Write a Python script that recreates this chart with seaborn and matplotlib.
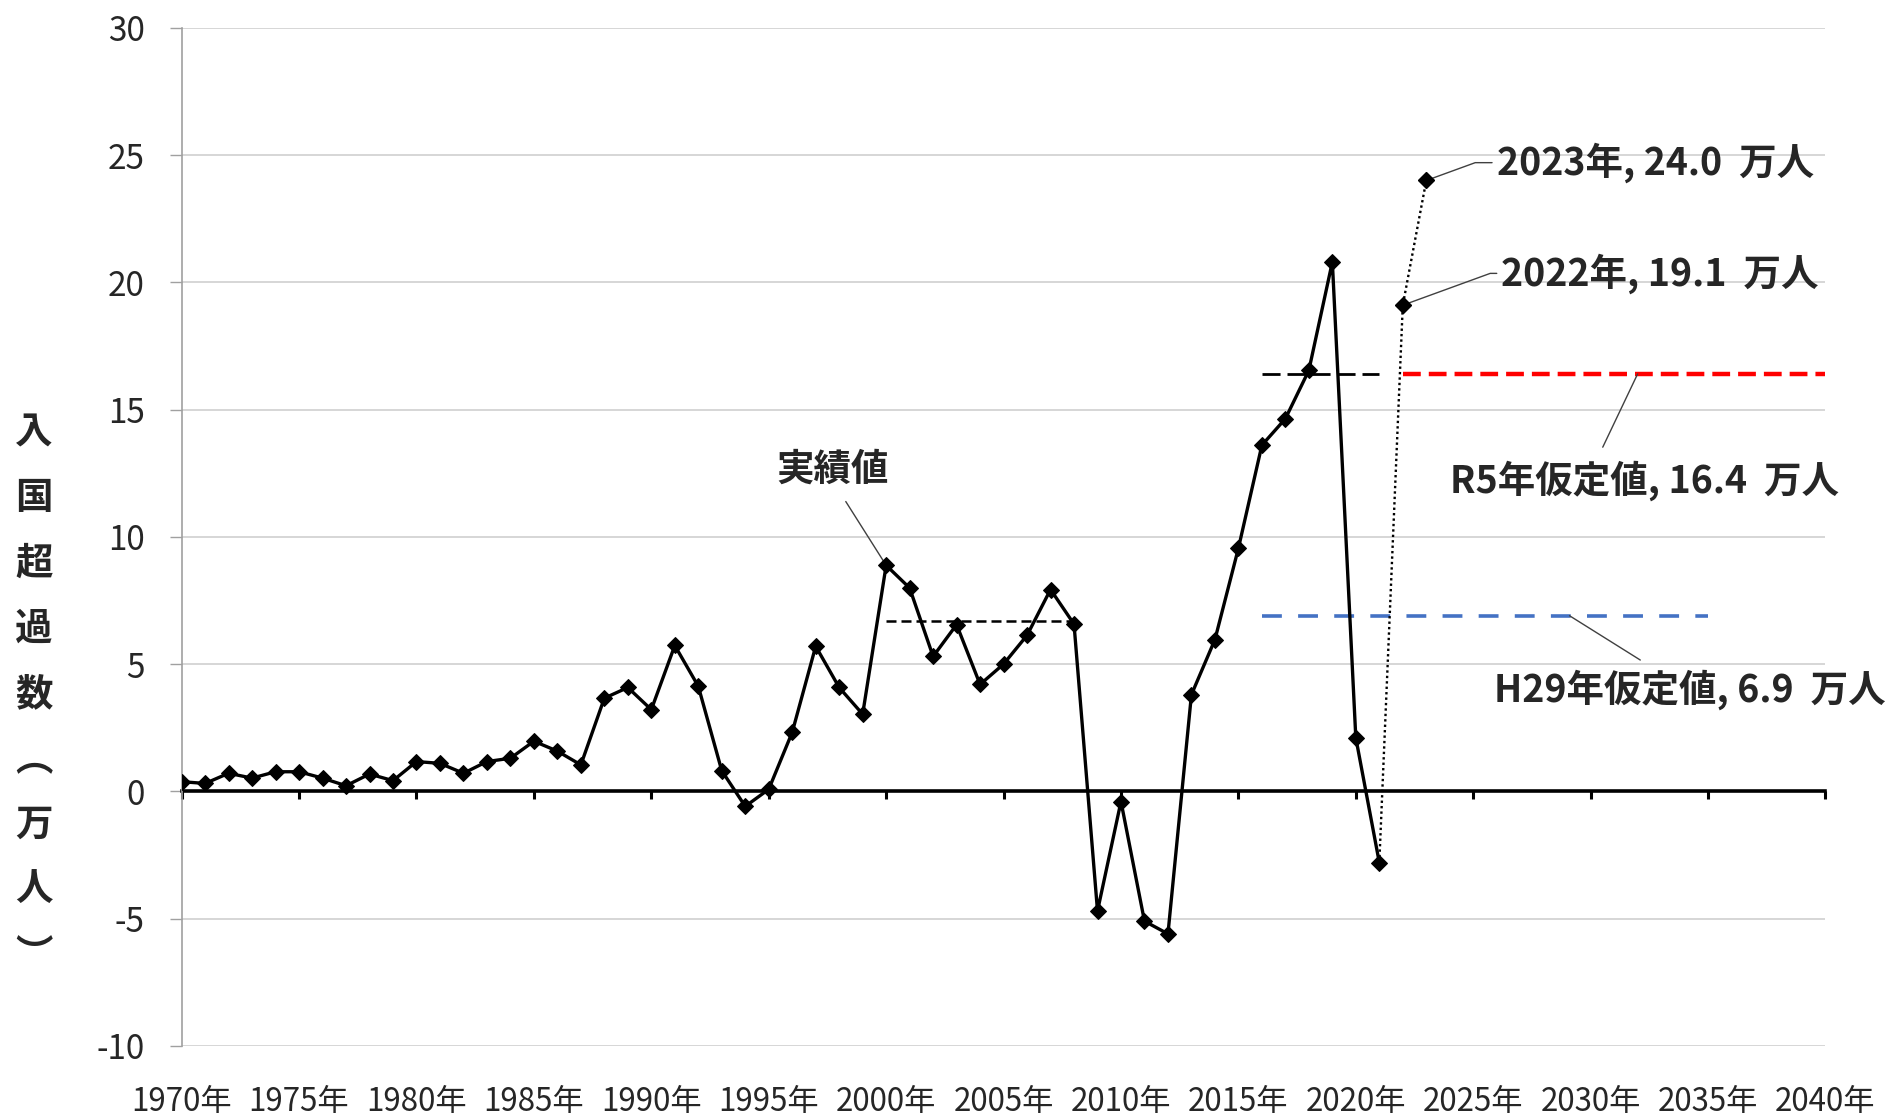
import numpy as np
import pandas as pd
import matplotlib
matplotlib.use('Agg')
import matplotlib.pyplot as plt
import seaborn as sns

# 実績値 (万人)
years = list(range(1970, 2022))
jisseki = [0.38, 0.31, 0.71, 0.52, 0.77, 0.77, 0.52, 0.22, 0.68, 0.42,
           1.17, 1.10, 0.71, 1.17, 1.30, 1.97, 1.58, 1.04, 3.66, 4.08,
           3.21, 5.73, 4.13, 0.81, -0.59, 0.08, 2.32, 5.70, 4.08, 3.03,
           8.88, 7.99, 5.30, 6.55, 4.20, 5.00, 6.13, 7.93, 6.57, -4.70,
           -0.40, -5.10, -5.60, 3.80, 5.96, 9.55, 13.60, 14.64, 16.54, 20.80,
           2.10, -2.80]

# 2022, 2023 (点線)
fc_years = [2021, 2022, 2023]
fc_vals = [-2.80, 19.1, 24.0]

# 仮定値・平均の水平線
avg1_years = [2000, 2008]
avg1_val = 6.7
avg2_years = [2016, 2021]
avg2_val = 16.4
r5_years = [2022, 2040]
r5_val = 16.4
h29_years = [2016, 2035]
h29_val = 6.9

xticks = list(range(1970, 2041, 5))
xlabels = [f'{y}年' for y in xticks]
yticks = list(range(-10, 31, 5))
ylabel_chars = ['入', '国', '超', '過', '数', '︵', '万', '人', '︶']

sns.set_theme(style='white')
plt.rcParams['font.family'] = ['Noto Sans CJK JP', 'DejaVu Sans']

fig = plt.figure(figsize=(18.98, 11.15), dpi=100)
ax = fig.add_axes([0.0957, 0.062, 0.8661, 0.9131])

df = pd.DataFrame({'year': years, 'val': jisseki})
sns.lineplot(data=df, x='year', y='val', ax=ax, color='black', lw=2.4,
             marker='D', markersize=8, markeredgecolor='black', zorder=5)

df_fc = pd.DataFrame({'year': fc_years, 'val': fc_vals})
sns.lineplot(data=df_fc, x='year', y='val', ax=ax, color='black', lw=1.7,
             linestyle=(0, (1, 1.3)), zorder=4)
ax.plot(fc_years[1:], fc_vals[1:], linestyle='none', marker='D',
        markersize=8, color='black', zorder=5)

ax.plot(avg1_years, [avg1_val] * 2, color='black', lw=1.8,
        linestyle=(0, (4, 2)), zorder=3)
ax.plot(avg2_years, [avg2_val] * 2, color='black', lw=2.0,
        linestyle=(0, (6.5, 2.5)), zorder=3)
ax.plot(r5_years, [r5_val] * 2, color='#ff0000', lw=3.2,
        linestyle=(0, (4, 1.8)), zorder=3)
ax.plot(h29_years, [h29_val] * 2, color='#4472c4', lw=2.6,
        linestyle=(0, (5.5, 4.5)), zorder=3)

ax.set_xlim(1970, 2040)
ax.set_ylim(-10, 30)
ax.set_yticks(yticks)
ax.set_yticklabels([str(v) for v in yticks], fontsize=24)
ax.set_xticks(xticks)
ax.set_xticklabels([])
ax.set_xlabel('')
ax.set_ylabel('')

ax.yaxis.grid(True, color='#d0d0d0', lw=1.2)
ax.set_axisbelow(True)
for s in ['top', 'right']:
    ax.spines[s].set_visible(False)
ax.spines['left'].set_color('#a0a0a0')
ax.spines['left'].set_linewidth(1.2)
ax.spines['bottom'].set_position(('data', 0))
ax.spines['bottom'].set_color('black')
ax.spines['bottom'].set_linewidth(2.6)
ax.spines['bottom'].set_zorder(2)
ax.tick_params(axis='y', direction='out', length=8.5, width=1.0,
               color='#a0a0a0', pad=18, left=True)
ax.tick_params(axis='x', direction='out', length=6, width=2.2,
               color='black', bottom=True)

sec = ax.secondary_xaxis('bottom')
sec.set_xticks(xticks)
sec.set_xticklabels(xlabels, fontsize=22.5)
sec.tick_params(length=0, pad=29)
sec.spines['bottom'].set_visible(False)

fig.text(0.018, 0.378, '\n'.join(ylabel_chars), fontsize=27,
         fontweight='bold', ha='center', va='center', linespacing=1.85)

bold = dict(fontsize=27, fontweight='bold')
line_kw = dict(arrowstyle='-', color='#404040', lw=1.0, shrinkB=3)

ax.annotate('実績値', xy=(2000, 8.88), xytext=(1997.7, 12.65),
            ha='center', va='center',
            arrowprops=dict(**line_kw, shrinkA=8, relpos=(0.55, 0)), **bold)
ax.annotate('2023年, 24.0  万人', xy=(2023, 24.0), xytext=(2026.0, 24.7),
            ha='left', va='center',
            arrowprops=dict(**line_kw, shrinkA=1, relpos=(0, 0.5),
                            connectionstyle='angle,angleA=0,angleB=20,rad=0'),
            **bold)
ax.annotate('2022年, 19.1  万人', xy=(2022, 19.1), xytext=(2026.2, 20.35),
            ha='left', va='center',
            arrowprops=dict(**line_kw, shrinkA=1, relpos=(0, 0.5),
                            connectionstyle='angle,angleA=0,angleB=20,rad=0'),
            **bold)
ax.annotate('R5年仮定値, 16.4  万人', xy=(2032.0, r5_val), xytext=(2024.0, 12.2),
            ha='left', va='center',
            arrowprops=dict(arrowstyle='-', color='#404040', lw=1.0,
                            shrinkA=8, shrinkB=0, relpos=(0.377, 1)),
            **bold)
ax.annotate('H29年仮定値, 6.9  万人', xy=(2029.1, h29_val), xytext=(2025.9, 4.0),
            ha='left', va='center', annotation_clip=False,
            arrowprops=dict(arrowstyle='-', color='#404040', lw=1.0,
                            shrinkA=8, shrinkB=0, relpos=(0.41, 1)),
            **bold)

fig.savefig('out.png', dpi=100)
